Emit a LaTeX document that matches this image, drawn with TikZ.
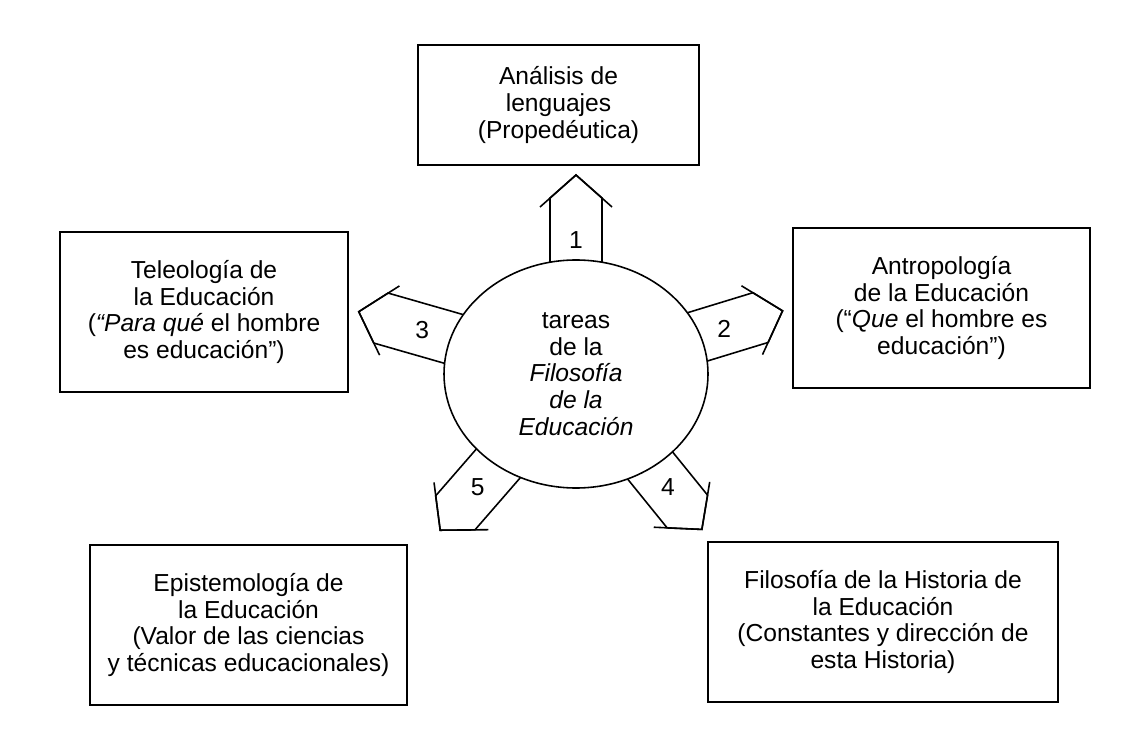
\documentclass[tikz,border=0pt]{standalone}
\usepackage{fontspec}
\setmainfont{Liberation Sans}
\usetikzlibrary{shapes.geometric}

\begin{document}
\begin{tikzpicture}[
  caja/.style={draw,line width=0.9pt,align=center,inner sep=0pt},
  tarea/.style={draw,ellipse,line width=0.9pt,fill=white,align=center,inner sep=0pt,
    minimum width=5.28cm,minimum height=4.56cm},
  flecha/.style={draw,line width=0.9pt,fill=white,line join=miter},
  punta/.style={line width=0.9pt,line join=miter},
  every node/.style={font=\fontsize{14}{15.2}\selectfont}
]
  \useasboundingbox (0,0) rectangle (22.5,14.72);

  \coordinate (c) at (11.52,7.24);

  % arrows first, the ellipse hides their inner ends
  \begin{scope}[shift={(c)},rotate=90]
    \draw[flecha] (0,-0.52) -- (3.52,-0.52) -- (3.98,0) -- (3.52,0.52) -- (0,0.52);
    \draw[punta] (3.34,-0.72) -- (3.98,0) -- (3.34,0.72);
    \node (n1) at (2.68,0) {1};
  \end{scope}
  \begin{scope}[shift={(c)},rotate=17]
    \draw[flecha] (0,-0.52) -- (3.86,-0.52) -- (4.32,0) -- (3.86,0.52) -- (0,0.52);
    \draw[punta] (3.68,-0.72) -- (4.32,0) -- (3.68,0.72);
    \node (n2) at (3.1,0) {2};
  \end{scope}
  \begin{scope}[shift={(c)},rotate=164]
    \draw[flecha] (0,-0.52) -- (4.06,-0.52) -- (4.52,0) -- (4.06,0.52) -- (0,0.52);
    \draw[punta] (3.88,-0.72) -- (4.52,0) -- (3.88,0.72);
    \node (n3) at (3.2,0) {3};
  \end{scope}
  \begin{scope}[shift={(c)},rotate=-51]
    \draw[flecha] (0,-0.52) -- (3.54,-0.52) -- (4.0,0) -- (3.54,0.52) -- (0,0.52);
    \draw[punta] (3.36,-0.72) -- (4.0,0) -- (3.36,0.72);
    \node (n4) at (2.92,0) {4};
  \end{scope}
  \begin{scope}[shift={(c)},rotate=-131]
    \draw[flecha] (0,-0.52) -- (3.68,-0.52) -- (4.14,0) -- (3.68,0.52) -- (0,0.52);
    \draw[punta] (3.5,-0.72) -- (4.14,0) -- (3.5,0.72);
    \node (n5) at (3.0,0) {5};
  \end{scope}

  \node[tarea] (tareas) at (c) {tareas\\de la\\\textit{Filosofía}\\\textit{de la}\\\textit{Educación}};

  \node[caja,minimum width=5.62cm,minimum height=2.4cm] (analisis) at (11.17,12.62)
    {Análisis de\\lenguajes\\(Propedéutica)};
  \node[caja,minimum width=5.76cm,minimum height=3.2cm] (teleologia) at (4.08,8.48)
    {Teleología de\\la Educación\\(\textit{“Para qué} el hombre\\es educación”)};
  \node[caja,minimum width=5.94cm,minimum height=3.2cm] (antropologia) at (18.83,8.56)
    {Antropología\\de la Educación\\(“\textit{Que} el hombre es\\educación”)};
  \node[caja,minimum width=6.34cm,minimum height=3.2cm] (epistemologia) at (4.97,2.22)
    {Epistemología de\\la Educación\\(Valor de las ciencias\\y técnicas educacionales)};
  \node[caja,minimum width=7cm,minimum height=3.2cm] (historia) at (17.66,2.28)
    {Filosofía de la Historia de\\la Educación\\(Constantes y dirección de\\esta Historia)};
\end{tikzpicture}
\end{document}
